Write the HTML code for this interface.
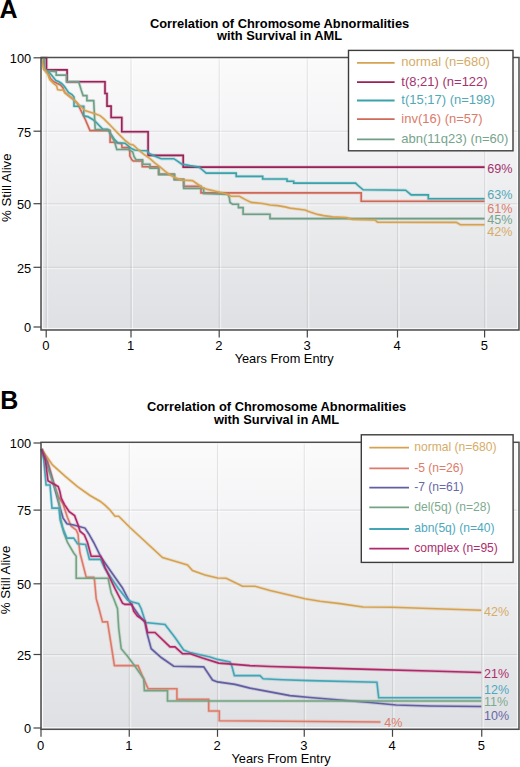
<!DOCTYPE html>
<html><head><meta charset="utf-8"><style>
html,body{margin:0;padding:0;background:#fff;width:520px;height:767px;overflow:hidden}
svg{display:block}
</style></head><body>
<svg width="520" height="767" viewBox="0 0 520 767" font-family='"Liberation Sans", sans-serif'>
<rect width="520" height="767" fill="#fff"/>
<linearGradient id="ga" x1="0" y1="0" x2="0" y2="1"><stop offset="0" stop-color="#fbfbfc"/><stop offset="1" stop-color="#dfe0e3"/></linearGradient>
<rect x="41" y="57.5" width="478" height="272.5" fill="url(#ga)"/>
<line x1="41" y1="132.6" x2="519" y2="132.6" stroke="#fff" stroke-opacity="0.55" stroke-width="1"/>
<line x1="41" y1="131.2" x2="519" y2="131.2" stroke="#000" stroke-opacity="0.085" stroke-width="1.1"/>
<line x1="41" y1="205.1" x2="519" y2="205.1" stroke="#fff" stroke-opacity="0.55" stroke-width="1"/>
<line x1="41" y1="203.7" x2="519" y2="203.7" stroke="#000" stroke-opacity="0.085" stroke-width="1.1"/>
<line x1="41" y1="268.7" x2="519" y2="268.7" stroke="#fff" stroke-opacity="0.55" stroke-width="1"/>
<line x1="41" y1="267.3" x2="519" y2="267.3" stroke="#000" stroke-opacity="0.085" stroke-width="1.1"/>
<line x1="47.7" y1="57.5" x2="47.7" y2="330" stroke="#fff" stroke-opacity="0.55" stroke-width="1"/>
<line x1="46.2" y1="57.5" x2="46.2" y2="330" stroke="#000" stroke-opacity="0.085" stroke-width="1.1"/>
<line x1="132.5" y1="57.5" x2="132.5" y2="330" stroke="#fff" stroke-opacity="0.55" stroke-width="1"/>
<line x1="131" y1="57.5" x2="131" y2="330" stroke="#000" stroke-opacity="0.085" stroke-width="1.1"/>
<line x1="220.7" y1="57.5" x2="220.7" y2="330" stroke="#fff" stroke-opacity="0.55" stroke-width="1"/>
<line x1="219.2" y1="57.5" x2="219.2" y2="330" stroke="#000" stroke-opacity="0.085" stroke-width="1.1"/>
<line x1="308.8" y1="57.5" x2="308.8" y2="330" stroke="#fff" stroke-opacity="0.55" stroke-width="1"/>
<line x1="307.3" y1="57.5" x2="307.3" y2="330" stroke="#000" stroke-opacity="0.085" stroke-width="1.1"/>
<line x1="399.0" y1="57.5" x2="399.0" y2="330" stroke="#fff" stroke-opacity="0.55" stroke-width="1"/>
<line x1="397.5" y1="57.5" x2="397.5" y2="330" stroke="#000" stroke-opacity="0.085" stroke-width="1.1"/>
<line x1="486.1" y1="57.5" x2="486.1" y2="330" stroke="#fff" stroke-opacity="0.55" stroke-width="1"/>
<line x1="484.6" y1="57.5" x2="484.6" y2="330" stroke="#000" stroke-opacity="0.085" stroke-width="1.1"/>
<rect x="42.6" y="59.1" width="474.8" height="269.3" fill="none" stroke="#fff" stroke-opacity="0.8" stroke-width="1"/>
<linearGradient id="gb" x1="0" y1="0" x2="0" y2="1"><stop offset="0" stop-color="#fbfbfc"/><stop offset="1" stop-color="#dfe0e3"/></linearGradient>
<rect x="41" y="442.3" width="478" height="286.99999999999994" fill="url(#gb)"/>
<line x1="41" y1="511.5" x2="519" y2="511.5" stroke="#fff" stroke-opacity="0.55" stroke-width="1"/>
<line x1="41" y1="510.1" x2="519" y2="510.1" stroke="#000" stroke-opacity="0.085" stroke-width="1.1"/>
<line x1="41" y1="585.1999999999999" x2="519" y2="585.1999999999999" stroke="#fff" stroke-opacity="0.55" stroke-width="1"/>
<line x1="41" y1="583.8" x2="519" y2="583.8" stroke="#000" stroke-opacity="0.085" stroke-width="1.1"/>
<line x1="41" y1="655.9" x2="519" y2="655.9" stroke="#fff" stroke-opacity="0.55" stroke-width="1"/>
<line x1="41" y1="654.5" x2="519" y2="654.5" stroke="#000" stroke-opacity="0.085" stroke-width="1.1"/>
<line x1="42.5" y1="442.3" x2="42.5" y2="729.3" stroke="#fff" stroke-opacity="0.55" stroke-width="1"/>
<line x1="41" y1="442.3" x2="41" y2="729.3" stroke="#000" stroke-opacity="0.085" stroke-width="1.1"/>
<line x1="130.75" y1="442.3" x2="130.75" y2="729.3" stroke="#fff" stroke-opacity="0.55" stroke-width="1"/>
<line x1="129.25" y1="442.3" x2="129.25" y2="729.3" stroke="#000" stroke-opacity="0.085" stroke-width="1.1"/>
<line x1="219.0" y1="442.3" x2="219.0" y2="729.3" stroke="#fff" stroke-opacity="0.55" stroke-width="1"/>
<line x1="217.5" y1="442.3" x2="217.5" y2="729.3" stroke="#000" stroke-opacity="0.085" stroke-width="1.1"/>
<line x1="305.75" y1="442.3" x2="305.75" y2="729.3" stroke="#fff" stroke-opacity="0.55" stroke-width="1"/>
<line x1="304.25" y1="442.3" x2="304.25" y2="729.3" stroke="#000" stroke-opacity="0.085" stroke-width="1.1"/>
<line x1="394.0" y1="442.3" x2="394.0" y2="729.3" stroke="#fff" stroke-opacity="0.55" stroke-width="1"/>
<line x1="392.5" y1="442.3" x2="392.5" y2="729.3" stroke="#000" stroke-opacity="0.085" stroke-width="1.1"/>
<line x1="483.25" y1="442.3" x2="483.25" y2="729.3" stroke="#fff" stroke-opacity="0.55" stroke-width="1"/>
<line x1="481.75" y1="442.3" x2="481.75" y2="729.3" stroke="#000" stroke-opacity="0.085" stroke-width="1.1"/>
<rect x="42.6" y="443.90000000000003" width="474.8" height="283.79999999999995" fill="none" stroke="#fff" stroke-opacity="0.8" stroke-width="1"/>
<path d="M41.0,58.0 L46.5,58.0 L46.5,69.9 L67.1,69.9 L67.1,81.7 L105.0,81.7 L105.0,93.5 L107.0,93.5 L107.0,106.1 L111.1,106.1 L111.1,117.5 L121.8,117.5 L121.8,131.7 L148.1,131.7 L148.1,155.4 L183.2,155.4 L183.2,167.1 L484.6,167.1" fill="none" stroke="#9A2058" stroke-opacity="0.22" stroke-width="3.4" stroke-linejoin="round"/>
<path d="M41.0,58.0 L46.5,58.0 L46.5,69.9 L67.1,69.9 L67.1,81.7 L105.0,81.7 L105.0,93.5 L107.0,93.5 L107.0,106.1 L111.1,106.1 L111.1,117.5 L121.8,117.5 L121.8,131.7 L148.1,131.7 L148.1,155.4 L183.2,155.4 L183.2,167.1 L484.6,167.1" fill="none" stroke="#9A2058" stroke-width="1.6" stroke-linejoin="miter"/>
<path d="M43.8,58.0 L44.2,69.0 L46.5,72.0 L48.2,73.5 L50.5,78.5 L53.5,81.5 L57.4,83.5 L60.5,85.0 L63.2,88.0 L63.5,89.5 L65.0,92.7 L69.0,95.8 L72.8,98.8 L77.5,103.5 L79.4,107.5 L81.2,111.2 L85.0,118.8 L90.0,130.6 L110.1,130.6 L110.1,142.3 L113.5,142.3 L121.6,143.7 L122.1,147.6 L128.8,147.6 L129.8,151.9 L129.8,155.8 L131.7,159.6 L133.2,161.0 L142.3,161.0 L142.3,166.6 L158.7,166.9 L158.7,174.4 L174.4,174.4 L174.4,179.4 L183.7,179.4 L183.7,186.2 L201.0,186.2 L201.0,192.9 L361.2,192.9 L361.2,201.3 L484.6,201.3" fill="none" stroke="#D06858" stroke-opacity="0.22" stroke-width="3.4" stroke-linejoin="round"/>
<path d="M43.8,58.0 L44.2,69.0 L46.5,72.0 L48.2,73.5 L50.5,78.5 L53.5,81.5 L57.4,83.5 L60.5,85.0 L63.2,88.0 L63.5,89.5 L65.0,92.7 L69.0,95.8 L72.8,98.8 L77.5,103.5 L79.4,107.5 L81.2,111.2 L85.0,118.8 L90.0,130.6 L110.1,130.6 L110.1,142.3 L113.5,142.3 L121.6,143.7 L122.1,147.6 L128.8,147.6 L129.8,151.9 L129.8,155.8 L131.7,159.6 L133.2,161.0 L142.3,161.0 L142.3,166.6 L158.7,166.9 L158.7,174.4 L174.4,174.4 L174.4,179.4 L183.7,179.4 L183.7,186.2 L201.0,186.2 L201.0,192.9 L361.2,192.9 L361.2,201.3 L484.6,201.3" fill="none" stroke="#D06858" stroke-width="1.6" stroke-linejoin="miter"/>
<path d="M43.8,58.0 L44.2,69.0 L46.5,71.0 L49.3,72.3 L52.5,76.3 L55.8,80.4 L58.5,81.5 L61.6,83.5 L64.3,86.2 L66.6,89.6 L68.5,92.5 L72.0,94.6 L74.0,97.0 L74.0,106.2 L83.8,106.2 L83.8,115.8 L87.7,116.6 L92.3,119.2 L96.2,122.3 L99.2,125.5 L102.9,129.3 L107.7,129.3 L110.6,133.7 L114.4,139.4 L117.8,142.8 L125.0,143.2 L127.9,145.7 L130.8,148.1 L134.6,150.0 L140.4,150.5 L147.1,150.8 L149.2,153.5 L155.0,156.2 L161.2,158.7 L173.8,158.7 L177.5,161.2 L181.5,164.0 L190.0,165.6 L198.8,166.9 L202.5,170.0 L206.2,173.1 L236.2,173.1 L236.2,176.4 L262.7,176.4 L262.7,179.0 L287.0,179.0 L287.0,181.2 L293.7,181.2 L293.7,183.1 L355.6,183.1 L357.5,185.0 L363.1,189.8 L405.6,190.2 L411.2,194.9 L428.3,194.9 L428.3,198.8 L484.6,198.8" fill="none" stroke="#3AA2AA" stroke-opacity="0.22" stroke-width="3.4" stroke-linejoin="round"/>
<path d="M43.8,58.0 L44.2,69.0 L46.5,71.0 L49.3,72.3 L52.5,76.3 L55.8,80.4 L58.5,81.5 L61.6,83.5 L64.3,86.2 L66.6,89.6 L68.5,92.5 L72.0,94.6 L74.0,97.0 L74.0,106.2 L83.8,106.2 L83.8,115.8 L87.7,116.6 L92.3,119.2 L96.2,122.3 L99.2,125.5 L102.9,129.3 L107.7,129.3 L110.6,133.7 L114.4,139.4 L117.8,142.8 L125.0,143.2 L127.9,145.7 L130.8,148.1 L134.6,150.0 L140.4,150.5 L147.1,150.8 L149.2,153.5 L155.0,156.2 L161.2,158.7 L173.8,158.7 L177.5,161.2 L181.5,164.0 L190.0,165.6 L198.8,166.9 L202.5,170.0 L206.2,173.1 L236.2,173.1 L236.2,176.4 L262.7,176.4 L262.7,179.0 L287.0,179.0 L287.0,181.2 L293.7,181.2 L293.7,183.1 L355.6,183.1 L357.5,185.0 L363.1,189.8 L405.6,190.2 L411.2,194.9 L428.3,194.9 L428.3,198.8 L484.6,198.8" fill="none" stroke="#3AA2AA" stroke-width="1.6" stroke-linejoin="miter"/>
<path d="M43.8,58.0 L44.2,69.0 L47.0,70.8 L56.2,71.6 L56.2,75.1 L66.5,75.1 L66.5,81.7 L78.7,81.7 L81.2,90.0 L83.1,95.6 L86.9,95.6 L86.9,100.6 L93.7,100.6 L95.2,129.3 L109.1,130.3 L110.6,134.6 L114.4,141.3 L116.8,149.5 L128.8,149.5 L132.7,151.9 L134.1,156.7 L136.1,159.8 L142.6,159.8 L142.6,164.2 L150.0,164.2 L150.0,168.2 L158.7,168.2 L158.7,174.4 L174.4,174.4 L174.4,179.6 L183.7,179.6 L183.7,188.4 L203.7,188.4 L203.7,193.6 L228.1,194.4 L229.4,198.1 L230.0,202.5 L232.5,204.2 L238.4,204.2 L238.4,207.6 L243.1,207.6 L243.1,214.2 L270.0,214.2 L270.0,218.6 L484.6,218.6" fill="none" stroke="#6E9E86" stroke-opacity="0.22" stroke-width="3.4" stroke-linejoin="round"/>
<path d="M43.8,58.0 L44.2,69.0 L47.0,70.8 L56.2,71.6 L56.2,75.1 L66.5,75.1 L66.5,81.7 L78.7,81.7 L81.2,90.0 L83.1,95.6 L86.9,95.6 L86.9,100.6 L93.7,100.6 L95.2,129.3 L109.1,130.3 L110.6,134.6 L114.4,141.3 L116.8,149.5 L128.8,149.5 L132.7,151.9 L134.1,156.7 L136.1,159.8 L142.6,159.8 L142.6,164.2 L150.0,164.2 L150.0,168.2 L158.7,168.2 L158.7,174.4 L174.4,174.4 L174.4,179.6 L183.7,179.6 L183.7,188.4 L203.7,188.4 L203.7,193.6 L228.1,194.4 L229.4,198.1 L230.0,202.5 L232.5,204.2 L238.4,204.2 L238.4,207.6 L243.1,207.6 L243.1,214.2 L270.0,214.2 L270.0,218.6 L484.6,218.6" fill="none" stroke="#6E9E86" stroke-width="1.6" stroke-linejoin="miter"/>
<path d="M41.5,59.0 L43.8,69.0 L47.8,74.2 L49.7,79.6 L53.5,83.5 L56.6,85.8 L57.6,89.6 L60.5,90.2 L63.0,89.6 L65.0,92.7 L69.0,95.8 L72.8,98.8 L77.5,103.5 L85.0,110.6 L95.0,113.7 L100.0,115.6 L103.7,118.7 L111.2,126.2 L119.2,134.6 L125.0,140.4 L129.8,144.2 L132.7,144.7 L134.6,146.2 L138.5,150.0 L143.3,153.8 L150.0,158.7 L155.0,163.1 L160.0,166.9 L165.0,171.2 L170.0,175.0 L176.2,178.1 L181.2,180.0 L192.5,180.6 L198.8,185.0 L202.5,187.6 L207.5,189.4 L215.6,191.2 L226.2,193.7 L231.2,196.2 L239.4,196.2 L245.0,199.4 L251.2,202.4 L262.5,203.5 L270.0,205.0 L277.5,205.6 L285.0,206.9 L290.0,208.1 L305.0,210.0 L310.0,211.9 L317.5,214.4 L323.7,215.6 L332.5,216.9 L346.2,217.5 L352.5,219.4 L375.0,220.0 L377.5,222.2 L456.3,222.4 L460.4,224.7 L484.6,224.7" fill="none" stroke="#D6A250" stroke-opacity="0.22" stroke-width="3.4" stroke-linejoin="round"/>
<path d="M41.5,59.0 L43.8,69.0 L47.8,74.2 L49.7,79.6 L53.5,83.5 L56.6,85.8 L57.6,89.6 L60.5,90.2 L63.0,89.6 L65.0,92.7 L69.0,95.8 L72.8,98.8 L77.5,103.5 L85.0,110.6 L95.0,113.7 L100.0,115.6 L103.7,118.7 L111.2,126.2 L119.2,134.6 L125.0,140.4 L129.8,144.2 L132.7,144.7 L134.6,146.2 L138.5,150.0 L143.3,153.8 L150.0,158.7 L155.0,163.1 L160.0,166.9 L165.0,171.2 L170.0,175.0 L176.2,178.1 L181.2,180.0 L192.5,180.6 L198.8,185.0 L202.5,187.6 L207.5,189.4 L215.6,191.2 L226.2,193.7 L231.2,196.2 L239.4,196.2 L245.0,199.4 L251.2,202.4 L262.5,203.5 L270.0,205.0 L277.5,205.6 L285.0,206.9 L290.0,208.1 L305.0,210.0 L310.0,211.9 L317.5,214.4 L323.7,215.6 L332.5,216.9 L346.2,217.5 L352.5,219.4 L375.0,220.0 L377.5,222.2 L456.3,222.4 L460.4,224.7 L484.6,224.7" fill="none" stroke="#D6A250" stroke-width="1.6" stroke-linejoin="miter"/>
<path d="M41.5,449.0 L52.5,464.9 L65.0,476.1 L77.5,486.7 L90.0,495.5 L100.0,501.2 L105.0,505.2 L110.0,510.0 L115.0,516.2 L118.7,516.2 L130.0,527.5 L162.5,557.5 L175.0,561.2 L187.5,565.0 L192.5,570.5 L205.0,575.0 L217.5,578.0 L226.2,578.2 L242.5,586.2 L255.0,586.2 L270.0,590.5 L305.0,598.7 L320.0,601.2 L340.0,603.6 L363.0,607.0 L392.0,607.2 L481.3,610.2" fill="none" stroke="#D6A250" stroke-opacity="0.22" stroke-width="3.4" stroke-linejoin="round"/>
<path d="M41.5,449.0 L52.5,464.9 L65.0,476.1 L77.5,486.7 L90.0,495.5 L100.0,501.2 L105.0,505.2 L110.0,510.0 L115.0,516.2 L118.7,516.2 L130.0,527.5 L162.5,557.5 L175.0,561.2 L187.5,565.0 L192.5,570.5 L205.0,575.0 L217.5,578.0 L226.2,578.2 L242.5,586.2 L255.0,586.2 L270.0,590.5 L305.0,598.7 L320.0,601.2 L340.0,603.6 L363.0,607.0 L392.0,607.2 L481.3,610.2" fill="none" stroke="#D6A250" stroke-width="1.6" stroke-linejoin="miter"/>
<path d="M41.5,449.0 L48.0,462.0 L54.0,484.0 L58.0,496.0 L62.9,503.8 L67.5,517.5 L71.2,526.2 L76.2,530.0 L78.1,534.4 L78.7,542.5 L80.0,553.0 L86.2,577.2 L93.7,577.2 L94.5,580.0 L96.2,598.7 L98.7,607.5 L102.5,621.9 L107.5,621.9 L111.2,645.0 L114.4,665.6 L138.1,665.6 L142.5,676.2 L148.1,688.7 L176.9,688.7 L176.9,699.4 L208.7,699.4 L208.7,711.0 L219.3,711.0 L219.3,720.8 L380.5,722.0" fill="none" stroke="#E07A68" stroke-opacity="0.22" stroke-width="3.4" stroke-linejoin="round"/>
<path d="M41.5,449.0 L48.0,462.0 L54.0,484.0 L58.0,496.0 L62.9,503.8 L67.5,517.5 L71.2,526.2 L76.2,530.0 L78.1,534.4 L78.7,542.5 L80.0,553.0 L86.2,577.2 L93.7,577.2 L94.5,580.0 L96.2,598.7 L98.7,607.5 L102.5,621.9 L107.5,621.9 L111.2,645.0 L114.4,665.6 L138.1,665.6 L142.5,676.2 L148.1,688.7 L176.9,688.7 L176.9,699.4 L208.7,699.4 L208.7,711.0 L219.3,711.0 L219.3,720.8 L380.5,722.0" fill="none" stroke="#E07A68" stroke-width="1.6" stroke-linejoin="miter"/>
<path d="M41.5,449.0 L47.0,462.0 L53.0,482.0 L56.0,493.0 L59.8,507.0 L63.1,518.1 L66.9,523.8 L73.7,525.0 L85.0,528.1 L88.7,533.7 L93.7,542.5 L101.2,557.5 L112.5,573.7 L122.5,588.0 L128.7,600.0 L132.5,606.2 L138.7,615.0 L145.0,622.5 L147.5,635.0 L151.2,648.7 L161.2,657.5 L173.7,666.2 L203.7,666.9 L212.5,680.0 L217.5,681.9 L235.0,684.4 L250.0,688.1 L270.0,691.9 L290.0,695.6 L310.0,697.5 L370.0,702.5 L396.2,705.0 L430.0,706.0 L481.3,706.5" fill="none" stroke="#625EA2" stroke-opacity="0.22" stroke-width="3.4" stroke-linejoin="round"/>
<path d="M41.5,449.0 L47.0,462.0 L53.0,482.0 L56.0,493.0 L59.8,507.0 L63.1,518.1 L66.9,523.8 L73.7,525.0 L85.0,528.1 L88.7,533.7 L93.7,542.5 L101.2,557.5 L112.5,573.7 L122.5,588.0 L128.7,600.0 L132.5,606.2 L138.7,615.0 L145.0,622.5 L147.5,635.0 L151.2,648.7 L161.2,657.5 L173.7,666.2 L203.7,666.9 L212.5,680.0 L217.5,681.9 L235.0,684.4 L250.0,688.1 L270.0,691.9 L290.0,695.6 L310.0,697.5 L370.0,702.5 L396.2,705.0 L430.0,706.0 L481.3,706.5" fill="none" stroke="#625EA2" stroke-width="1.6" stroke-linejoin="miter"/>
<path d="M41.5,449.0 L46.0,462.0 L52.0,480.0 L56.5,492.0 L59.5,505.0 L60.6,518.7 L63.7,532.5 L67.5,542.5 L73.7,553.0 L76.2,556.2 L76.2,578.3 L108.1,578.3 L111.2,593.0 L113.7,598.7 L117.5,608.7 L118.7,628.0 L121.2,648.7 L127.5,656.2 L135.0,666.2 L143.7,678.7 L144.4,690.6 L167.5,690.6 L167.5,701.0 L481.3,701.0" fill="none" stroke="#74A482" stroke-opacity="0.22" stroke-width="3.4" stroke-linejoin="round"/>
<path d="M41.5,449.0 L46.0,462.0 L52.0,480.0 L56.5,492.0 L59.5,505.0 L60.6,518.7 L63.7,532.5 L67.5,542.5 L73.7,553.0 L76.2,556.2 L76.2,578.3 L108.1,578.3 L111.2,593.0 L113.7,598.7 L117.5,608.7 L118.7,628.0 L121.2,648.7 L127.5,656.2 L135.0,666.2 L143.7,678.7 L144.4,690.6 L167.5,690.6 L167.5,701.0 L481.3,701.0" fill="none" stroke="#74A482" stroke-width="1.6" stroke-linejoin="miter"/>
<path d="M41.5,449.0 L43.7,460.0 L46.1,485.0 L50.0,485.0 L52.0,508.1 L59.0,508.1 L60.2,520.0 L62.5,527.5 L66.9,538.1 L73.7,538.1 L77.5,543.7 L85.6,544.4 L89.4,559.4 L100.6,559.4 L103.1,565.0 L105.0,568.7 L118.0,588.0 L127.5,600.0 L132.5,601.9 L138.7,603.7 L141.2,608.7 L145.6,622.5 L165.0,624.4 L175.0,637.5 L183.7,650.0 L190.0,652.5 L210.0,656.9 L217.5,659.4 L230.0,661.9 L231.9,666.2 L234.4,675.6 L260.0,675.6 L263.1,678.7 L282.5,679.7 L310.0,680.6 L376.9,682.2 L378.7,697.8 L481.3,697.8" fill="none" stroke="#42A6B6" stroke-opacity="0.22" stroke-width="3.4" stroke-linejoin="round"/>
<path d="M41.5,449.0 L43.7,460.0 L46.1,485.0 L50.0,485.0 L52.0,508.1 L59.0,508.1 L60.2,520.0 L62.5,527.5 L66.9,538.1 L73.7,538.1 L77.5,543.7 L85.6,544.4 L89.4,559.4 L100.6,559.4 L103.1,565.0 L105.0,568.7 L118.0,588.0 L127.5,600.0 L132.5,601.9 L138.7,603.7 L141.2,608.7 L145.6,622.5 L165.0,624.4 L175.0,637.5 L183.7,650.0 L190.0,652.5 L210.0,656.9 L217.5,659.4 L230.0,661.9 L231.9,666.2 L234.4,675.6 L260.0,675.6 L263.1,678.7 L282.5,679.7 L310.0,680.6 L376.9,682.2 L378.7,697.8 L481.3,697.8" fill="none" stroke="#42A6B6" stroke-width="1.6" stroke-linejoin="miter"/>
<path d="M41.5,449.0 L45.3,460.0 L48.0,480.7 L51.2,482.7 L54.3,484.3 L58.2,486.6 L59.8,491.3 L61.3,498.3 L64.5,504.6 L69.2,511.6 L74.6,515.6 L78.1,525.0 L80.0,531.2 L84.4,535.0 L87.5,542.5 L91.2,556.2 L100.6,556.2 L102.5,560.0 L105.0,567.5 L115.0,588.7 L122.5,603.1 L125.0,604.4 L131.9,604.4 L133.7,611.2 L137.5,616.2 L145.0,621.2 L147.5,632.5 L155.0,632.5 L170.0,646.9 L175.0,646.9 L182.5,653.7 L190.0,653.7 L202.5,658.1 L218.7,663.1 L235.0,664.4 L250.0,665.6 L270.0,666.5 L310.0,667.6 L370.0,669.4 L430.0,671.0 L481.3,672.5" fill="none" stroke="#B02868" stroke-opacity="0.22" stroke-width="3.4" stroke-linejoin="round"/>
<path d="M41.5,449.0 L45.3,460.0 L48.0,480.7 L51.2,482.7 L54.3,484.3 L58.2,486.6 L59.8,491.3 L61.3,498.3 L64.5,504.6 L69.2,511.6 L74.6,515.6 L78.1,525.0 L80.0,531.2 L84.4,535.0 L87.5,542.5 L91.2,556.2 L100.6,556.2 L102.5,560.0 L105.0,567.5 L115.0,588.7 L122.5,603.1 L125.0,604.4 L131.9,604.4 L133.7,611.2 L137.5,616.2 L145.0,621.2 L147.5,632.5 L155.0,632.5 L170.0,646.9 L175.0,646.9 L182.5,653.7 L190.0,653.7 L202.5,658.1 L218.7,663.1 L235.0,664.4 L250.0,665.6 L270.0,666.5 L310.0,667.6 L370.0,669.4 L430.0,671.0 L481.3,672.5" fill="none" stroke="#B02868" stroke-width="1.6" stroke-linejoin="miter"/>
<rect x="41" y="57.5" width="478" height="272.5" fill="none" stroke="#4e4e4e" stroke-width="1.5"/>
<line x1="33.5" y1="57.8" x2="41" y2="57.8" stroke="#444" stroke-width="1.2"/>
<text x="31.2" y="63.099999999999994" text-anchor="end" font-size="12.8">100</text>
<line x1="33.5" y1="131.2" x2="41" y2="131.2" stroke="#444" stroke-width="1.2"/>
<text x="31.2" y="136.5" text-anchor="end" font-size="12.8">75</text>
<line x1="33.5" y1="203.7" x2="41" y2="203.7" stroke="#444" stroke-width="1.2"/>
<text x="31.2" y="209.0" text-anchor="end" font-size="12.8">50</text>
<line x1="33.5" y1="267.3" x2="41" y2="267.3" stroke="#444" stroke-width="1.2"/>
<text x="31.2" y="272.6" text-anchor="end" font-size="12.8">25</text>
<line x1="33.5" y1="327" x2="41" y2="327" stroke="#444" stroke-width="1.2"/>
<text x="31.2" y="332.3" text-anchor="end" font-size="12.8">0</text>
<line x1="46.2" y1="330" x2="46.2" y2="337.5" stroke="#444" stroke-width="1.2"/>
<text x="45.900000000000006" y="350" text-anchor="middle" font-size="13">0</text>
<line x1="131" y1="330" x2="131" y2="337.5" stroke="#444" stroke-width="1.2"/>
<text x="130.7" y="350" text-anchor="middle" font-size="13">1</text>
<line x1="219.2" y1="330" x2="219.2" y2="337.5" stroke="#444" stroke-width="1.2"/>
<text x="218.89999999999998" y="350" text-anchor="middle" font-size="13">2</text>
<line x1="307.3" y1="330" x2="307.3" y2="337.5" stroke="#444" stroke-width="1.2"/>
<text x="307.0" y="350" text-anchor="middle" font-size="13">3</text>
<line x1="397.5" y1="330" x2="397.5" y2="337.5" stroke="#444" stroke-width="1.2"/>
<text x="397.2" y="350" text-anchor="middle" font-size="13">4</text>
<line x1="484.6" y1="330" x2="484.6" y2="337.5" stroke="#444" stroke-width="1.2"/>
<text x="484.3" y="350" text-anchor="middle" font-size="13">5</text>
<rect x="41" y="442.3" width="478" height="286.99999999999994" fill="none" stroke="#4e4e4e" stroke-width="1.5"/>
<line x1="33.5" y1="443" x2="41" y2="443" stroke="#444" stroke-width="1.2"/>
<text x="31.2" y="448.3" text-anchor="end" font-size="12.8">100</text>
<line x1="33.5" y1="510.1" x2="41" y2="510.1" stroke="#444" stroke-width="1.2"/>
<text x="31.2" y="515.4" text-anchor="end" font-size="12.8">75</text>
<line x1="33.5" y1="583.8" x2="41" y2="583.8" stroke="#444" stroke-width="1.2"/>
<text x="31.2" y="589.0999999999999" text-anchor="end" font-size="12.8">50</text>
<line x1="33.5" y1="654.5" x2="41" y2="654.5" stroke="#444" stroke-width="1.2"/>
<text x="31.2" y="659.8" text-anchor="end" font-size="12.8">25</text>
<line x1="33.5" y1="728" x2="41" y2="728" stroke="#444" stroke-width="1.2"/>
<text x="31.2" y="733.3" text-anchor="end" font-size="12.8">0</text>
<line x1="41" y1="729.3" x2="41" y2="736.8" stroke="#444" stroke-width="1.2"/>
<text x="40.7" y="750.0999999999999" text-anchor="middle" font-size="13">0</text>
<line x1="129.25" y1="729.3" x2="129.25" y2="736.8" stroke="#444" stroke-width="1.2"/>
<text x="128.95" y="750.0999999999999" text-anchor="middle" font-size="13">1</text>
<line x1="217.5" y1="729.3" x2="217.5" y2="736.8" stroke="#444" stroke-width="1.2"/>
<text x="217.2" y="750.0999999999999" text-anchor="middle" font-size="13">2</text>
<line x1="304.25" y1="729.3" x2="304.25" y2="736.8" stroke="#444" stroke-width="1.2"/>
<text x="303.95" y="750.0999999999999" text-anchor="middle" font-size="13">3</text>
<line x1="392.5" y1="729.3" x2="392.5" y2="736.8" stroke="#444" stroke-width="1.2"/>
<text x="392.2" y="750.0999999999999" text-anchor="middle" font-size="13">4</text>
<line x1="481.75" y1="729.3" x2="481.75" y2="736.8" stroke="#444" stroke-width="1.2"/>
<text x="481.45" y="750.0999999999999" text-anchor="middle" font-size="13">5</text>
<text x="-0.5" y="17.6" font-size="25" font-weight="bold">A</text>
<text x="0.3" y="408.8" font-size="25" font-weight="bold">B</text>
<text x="279.6" y="27.6" text-anchor="middle" font-size="12.85" font-weight="bold">Correlation of Chromosome Abnormalities</text>
<text x="279.6" y="40.3" text-anchor="middle" font-size="12.85" font-weight="bold">with Survival in AML</text>
<text x="276.6" y="410.6" text-anchor="middle" font-size="12.85" font-weight="bold">Correlation of Chromosome Abnormalities</text>
<text x="276.6" y="424" text-anchor="middle" font-size="12.85" font-weight="bold">with Survival in AML</text>
<text x="284.2" y="363" text-anchor="middle" font-size="12.8">Years From Entry</text>
<text x="281" y="763.2" text-anchor="middle" font-size="12.8">Years From Entry</text>
<text transform="translate(10.6,187.7) rotate(-90)" text-anchor="middle" font-size="13.3">% Still Alive</text>
<text transform="translate(10,580) rotate(-90)" text-anchor="middle" font-size="13.3">% Still Alive</text>
<rect x="348.5" y="50.4" width="164.5" height="100.4" fill="#fff" stroke="#3c3c3c" stroke-width="1.4"/>
<line x1="357" y1="62.9" x2="394.6" y2="62.9" stroke="#D6A250" stroke-width="1.8"/>
<text x="401.3" y="66.3" font-size="13" fill="#D6AC68">normal (n=680)</text>
<line x1="357" y1="82.2" x2="394.6" y2="82.2" stroke="#9A2058" stroke-width="1.8"/>
<text x="401.3" y="85.60000000000001" font-size="13" fill="#A4326C">t(8;21) (n=122)</text>
<line x1="357" y1="100.5" x2="394.6" y2="100.5" stroke="#3AA2AA" stroke-width="1.8"/>
<text x="401.3" y="103.9" font-size="13" fill="#52A8B6">t(15;17) (n=198)</text>
<line x1="357" y1="119.1" x2="394.6" y2="119.1" stroke="#D06858" stroke-width="1.8"/>
<text x="401.3" y="122.5" font-size="13" fill="#DA7C6A">inv(16) (n=57)</text>
<line x1="357" y1="139.4" x2="394.6" y2="139.4" stroke="#6E9E86" stroke-width="1.8"/>
<text x="401.3" y="142.8" font-size="13" fill="#76A48C">abn(11q23) (n=60)</text>
<rect x="361.3" y="434.8" width="151.8" height="127.59999999999997" fill="#fff" stroke="#3c3c3c" stroke-width="1.4"/>
<line x1="369.3" y1="447.7" x2="409" y2="447.7" stroke="#D6A250" stroke-width="1.8"/>
<text x="414.2" y="451.09999999999997" font-size="12.1" fill="#D6AC68">normal (n=680)</text>
<line x1="369.3" y1="468.3" x2="409" y2="468.3" stroke="#E07A68" stroke-width="1.8"/>
<text x="414.2" y="471.7" font-size="12.1" fill="#DC7C6A">-5 (n=26)</text>
<line x1="369.3" y1="487.7" x2="409" y2="487.7" stroke="#625EA2" stroke-width="1.8"/>
<text x="414.2" y="491.09999999999997" font-size="12.1" fill="#6868A6">-7 (n=61)</text>
<line x1="369.3" y1="507.4" x2="409" y2="507.4" stroke="#74A482" stroke-width="1.8"/>
<text x="414.2" y="510.79999999999995" font-size="12.1" fill="#7EAA8E">del(5q) (n=28)</text>
<line x1="369.3" y1="529" x2="409" y2="529" stroke="#42A6B6" stroke-width="1.8"/>
<text x="414.2" y="532.4" font-size="12.1" fill="#4EA8BE">abn(5q) (n=40)</text>
<line x1="369.3" y1="548.6" x2="409" y2="548.6" stroke="#B02868" stroke-width="1.8"/>
<text x="414.2" y="552.0" font-size="12.1" fill="#AC2E6C">complex (n=95)</text>
<text x="487.3" y="173.1" font-size="12.6" fill="#A4326C">69%</text>
<text x="487.3" y="199.1" font-size="12.6" fill="#52A8B6">63%</text>
<text x="487.3" y="213" font-size="12.6" fill="#DA7C6A">61%</text>
<text x="487.3" y="223.7" font-size="12.6" fill="#76A48C">45%</text>
<text x="487.3" y="236.1" font-size="12.6" fill="#D6AC68">42%</text>
<text x="484" y="615.8" font-size="12.5" fill="#D6AC68">42%</text>
<text x="484" y="677.7" font-size="12.5" fill="#AC2E6C">21%</text>
<text x="484" y="693.9" font-size="12.5" fill="#4EA8BE">12%</text>
<text x="484" y="705.9" font-size="12.5" fill="#7EAA8E">11%</text>
<text x="484" y="720" font-size="12.5" fill="#6868A6">10%</text>
<text x="384.3" y="726.5" font-size="12.5" fill="#DC7C6A">4%</text>
</svg>
</body></html>
